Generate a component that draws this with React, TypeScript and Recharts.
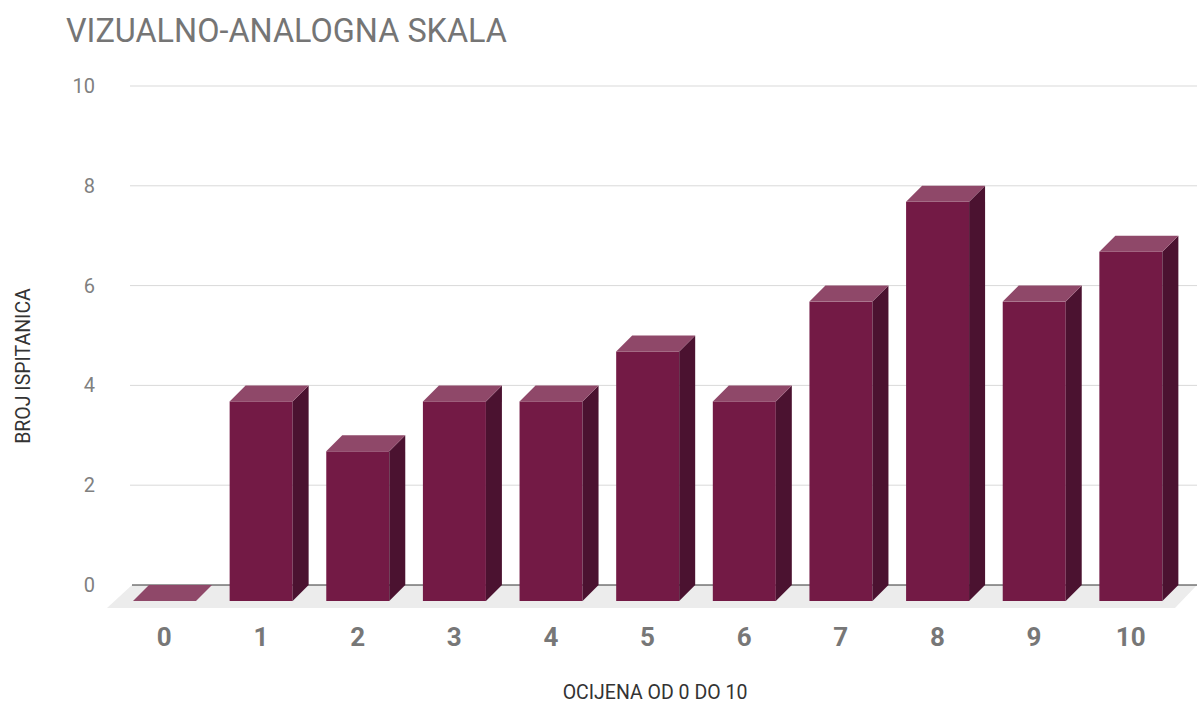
import { BarChart, Bar, XAxis, YAxis, CartesianGrid } from 'recharts'

const categories = ['0', '1', '2', '3', '4', '5', '6', '7', '8', '9', '10']
const counts = [0, 4, 3, 4, 4, 5, 4, 6, 8, 6, 7]
const yTicks = [0, 2, 4, 6, 8, 10]

const data = categories.map((c, i) => ({ ocjena: c, broj: counts[i] }))

const W = 1197
const H = 702
const TOP = 86
const X_AXIS_H = 117
const Y_AXIS_W = 132
const BOTTOM = H - X_AXIS_H
const DEPTH = 16
const FONT = 'Roboto, "Noto Sans", sans-serif'
const GREY = '#757575'

function Bar3D(props: any) {
  const { x, y, width, height } = props
  if (x == null || y == null) return null
  const d = DEPTH
  const fx = x - d
  const fy = y + d
  return (
    <g>
      <rect x={fx} y={fy} width={width} height={Math.max(height, 0)} fill="#731a45" />
      <polygon
        points={`${fx + width},${fy} ${x + width},${y} ${x + width},${y + height} ${fx + width},${fy + height}`}
        fill="#4b1230"
      />
      <polygon
        points={`${fx},${fy} ${fx + width},${fy} ${x + width},${y} ${x},${y}`}
        fill="#8f4869"
      />
    </g>
  )
}

function GridLine(props: any) {
  const { x1, x2, y1 } = props
  if (Math.abs(y1 - BOTTOM) < 1) {
    return (
      <g>
        <polygon
          points={`${x1},${y1} ${x2 + 2},${y1} ${x2 - 20},${y1 + 23} ${x1 - 25},${y1 + 23}`}
          fill="#ececec"
        />
        <line x1={x1} x2={x2 + 2} y1={y1} y2={y1} stroke="#333" strokeWidth={1} />
      </g>
    )
  }
  return <line x1={x1 - 2} x2={x2 + 2} y1={y1} y2={y1} stroke="#d9d9d9" strokeWidth={1} />
}

function XTick(props: any) {
  const { x, payload } = props
  return (
    <text
      x={x - DEPTH}
      y={637}
      textAnchor="middle"
      dominantBaseline="central"
      fill="#777"
      fontSize={26}
      fontWeight={700}
      fontFamily={FONT}
    >
      {payload.value}
    </text>
  )
}

function YTick(props: any) {
  const { y, payload } = props
  return (
    <text
      x={95}
      y={y}
      textAnchor="end"
      dominantBaseline="central"
      fill="#808080"
      fontSize={20}
      fontFamily={FONT}
    >
      {payload.value}
    </text>
  )
}

export default function App() {
  return (
    <div style={{ position: 'absolute', left: 0, top: 0, background: '#fff' }}>
      <BarChart
        width={W}
        height={H}
        data={data}
        margin={{ top: TOP, right: 2, bottom: 0, left: 0 }}
        barSize={63}
      >
        <CartesianGrid vertical={false} horizontal={GridLine} />
        <XAxis
          dataKey="ocjena"
          height={X_AXIS_H}
          axisLine={false}
          tickLine={false}
          tick={XTick}
          interval={0}
        />
        <YAxis
          width={Y_AXIS_W}
          domain={[0, 10]}
          ticks={yTicks}
          axisLine={false}
          tickLine={false}
          tick={YTick}
        />
        <Bar dataKey="broj" shape={Bar3D} isAnimationActive={false} />
        <text x={66} y={31} dominantBaseline="central" fill={GREY} fontSize={32.4} fontFamily={FONT}>
          VIZUALNO-ANALOGNA SKALA
        </text>
        <text
          x={655}
          y={692}
          textAnchor="middle"
          dominantBaseline="central"
          fill="#333"
          fontSize={19.5}
          fontFamily={FONT}
        >
          OCIJENA OD 0 DO 10
        </text>
        <text
          transform="translate(23,366) rotate(-90)"
          textAnchor="middle"
          dominantBaseline="central"
          fill="#333"
          fontSize={19.5}
          fontFamily={FONT}
        >
          BROJ ISPITANICA
        </text>
      </BarChart>
    </div>
  )
}
